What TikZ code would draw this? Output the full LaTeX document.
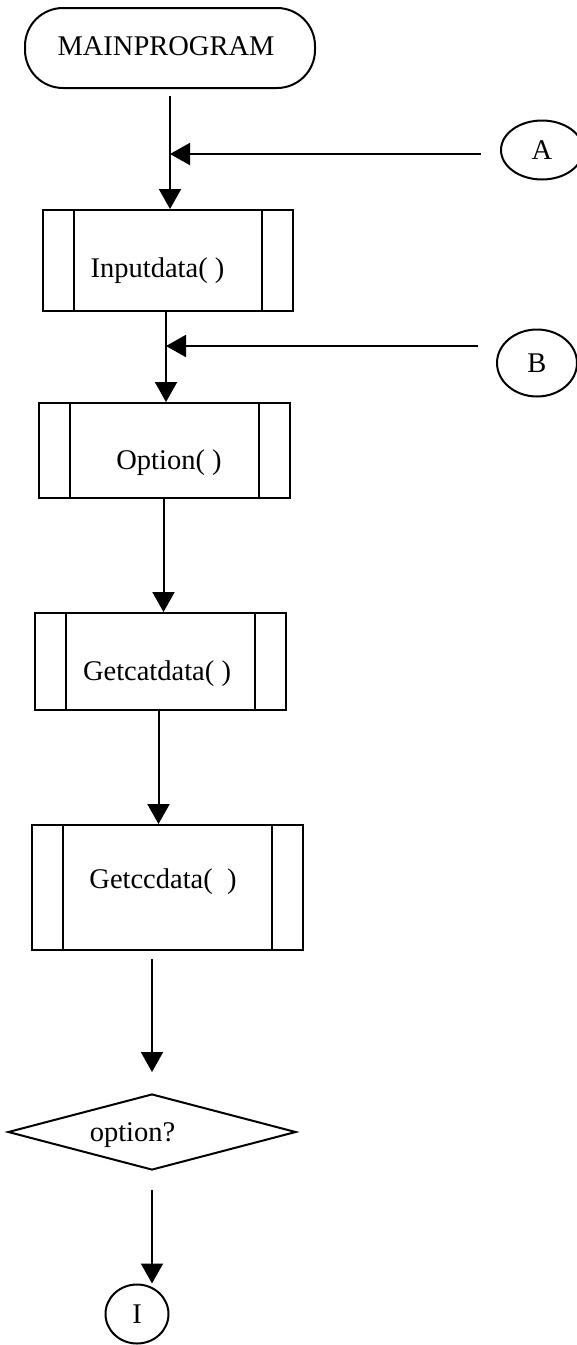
\documentclass[tikz,border=0pt]{standalone}
\usepackage{fontspec}
\setmainfont{Liberation Serif}
\usetikzlibrary{arrows.meta,shapes.geometric}
\begin{document}
\begin{tikzpicture}[x=1pt,y=-1pt,
  every node/.style={line width=2pt},
  lbl/.style={anchor=base,inner sep=0pt,font=\fontsize{28.5pt}{32pt}\selectfont},
  terminal/.style={draw,rectangle,rounded corners=38pt,minimum width=290pt,minimum height=80pt,inner sep=0pt},
  subproc/.style={draw,rectangle,inner sep=0pt,
    path picture={
      \draw[line width=2pt]
        ([xshift=31pt]path picture bounding box.north west) -- ([xshift=31pt]path picture bounding box.south west)
        ([xshift=-31pt]path picture bounding box.north east) -- ([xshift=-31pt]path picture bounding box.south east);
    }},
  decision/.style={draw,diamond,inner sep=0pt},
  connector/.style={draw,ellipse,inner sep=0pt,font=\fontsize{28.5pt}{32pt}\selectfont},
  arr/.style={line width=2pt,-{Triangle[length=20pt,width=22pt]}}
]
\useasboundingbox (0,0) rectangle (577,1345);
\clip (0,0) rectangle (577,1345);

% shapes
\node[terminal] (main) at (170,48) {};
\node[subproc,minimum width=250pt,minimum height=101pt] (inp) at (168,260.5) {};
\node[subproc,minimum width=251pt,minimum height=95pt] (opt) at (164.5,450.5) {};
\node[subproc,minimum width=251pt,minimum height=97pt] (gcat) at (160.5,661.5) {};
\node[subproc,minimum width=271pt,minimum height=125pt] (gcc) at (167.5,887.5) {};
\node[decision,minimum width=288pt,minimum height=76pt] (dia) at (152,1132) {};
\node[connector,minimum width=82pt,minimum height=59pt] (A) at (542,150) {A};
\node[connector,minimum width=80pt,minimum height=67pt] (B) at (537,363) {B};
\node[connector,minimum width=63pt,minimum height=59pt] (I) at (137,1314) {I};

% texts
\node[lbl] (main-t) at (166,55) {MAINPROGRAM};
\node[lbl] (inp-t) at (157.5,277) {Inputdata( )};
\node[lbl] (opt-t) at (169,469) {Option( )};
\node[lbl] (gcat-t) at (157,680) {Getcatdata( )};
\node[lbl] (gcc-t) at (163,888) {Getccdata(\ \ )};
\node[lbl] (dia-t) at (132.5,1141) {option?};

% junctions
\coordinate (ja) at (170,154);
\coordinate (jb) at (166,346);
\coordinate (jc) at (163.5,0);
\coordinate (jd) at (158.5,0);

% connectors
\draw[arr,shorten <=7pt] (main.south -| ja) -- (ja |- inp.north);
\draw[arr,shorten <=19pt] (A.west |- ja) -- (ja);
\draw[arr] (jb |- inp.south) -- (jb |- opt.north);
\draw[arr,shorten <=18pt] (B.west |- jb) -- (jb);
\draw[arr] (jc |- opt.south) -- (jc |- gcat.north);
\draw[arr] (jd |- gcat.south) -- (jd |- gcc.north);
\draw[arr,shorten <=8pt,shorten >=21pt] (gcc.south -| dia.north) -- (dia.north);
\draw[arr,shorten <=19pt] (dia.south) -- (dia.south |- I.north);
\end{tikzpicture}
\end{document}
